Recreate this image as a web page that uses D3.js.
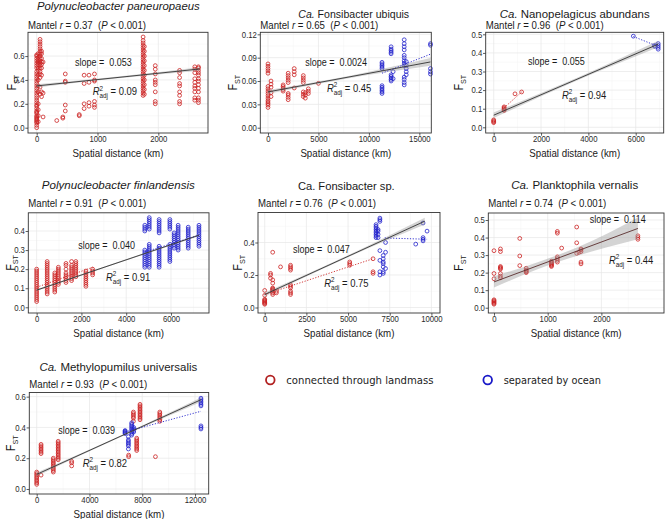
<!DOCTYPE html>
<html><head><meta charset="utf-8">
<script src="https://cdn.jsdelivr.net/npm/d3@7"></script>
<style>
html,body{margin:0;padding:0;background:#fff;}
svg text{white-space:pre;}
</style></head><body>
<svg id="c" width="665" height="519"></svg>
<script>
// ---------------- DATA ----------------
const titles = ["Polynucleobacter paneuropaeus","Ca. Fonsibacter ubiquis","Ca. Nanopelagicus abundans",
  "Polynucleobacter finlandensis","Ca. Fonsibacter sp.","Ca. Planktophila vernalis","Ca. Methylopumilus universalis"];
const titleStyle = ["italic","ca","ca","italic","plain","ca","ca"];
const mantelR = ["0.37","0.65","0.96","0.91","0.76","0.74","0.93"];
const slopes = ["0.053","0.0024","0.055","0.040","0.047","0.114","0.039"];
const r2adj = ["0.09","0.45","0.94","0.91","0.75","0.44","0.82"];
const legendLabels = ["connected through landmass","separated by ocean"];

const xTicks = [[0,1000,2000],[0,5000,10000,15000],[0,2000,4000,6000],[0,2000,4000,6000],[0,2500,5000,7500,10000],[0,1000,2000],[0,4000,8000,12000]];
const yTicks = [[0,0.2,0.4,0.6],[0,0.03,0.06,0.09,0.12],[0,0.1,0.2,0.3,0.4,0.5],[0,0.1,0.2,0.3,0.4],[0,0.2,0.4],[0,0.1,0.2,0.3,0.4,0.5],[0,0.2,0.4,0.6]];

// clusters: [distance km, [FST values]]
const p1Red = [
 [0,[0.00,0.02,0.04,0.05,0.06,0.07,0.08,0.09,0.10,0.12,0.13,0.14,0.16,0.18,0.19,0.21,0.23,0.25,0.27,0.29,0.31,0.33,0.35,0.37,0.39,0.41,0.43,0.45,0.47,0.50,0.52,0.54,0.56,0.58,0.60,0.61]],
 [25,[0.05,0.10,0.15,0.20,0.30,0.35,0.40,0.44,0.48,0.50,0.53,0.55,0.57,0.59,0.62]],
 [55,[0.28,0.34,0.42,0.45,0.47,0.50,0.52,0.54,0.56,0.58,0.60,0.62,0.64,0.66,0.68,0.70,0.72,0.74]],
 [80,[0.26,0.30,0.44,0.50,0.53,0.55,0.58,0.62,0.64]],
 [105,[0.09,0.29,0.55]],
 [330,[0.06]],[430,[0.08,0.09]],[470,[0.14,0.19,0.38,0.39,0.45]],[700,[0.10,0.11]],
 [780,[0.16,0.20,0.37,0.44]],[860,[0.18,0.21,0.38,0.44]],[950,[0.17,0.19,0.22,0.39,0.40,0.45]],
 [1750,[0.27,0.29,0.31,0.33,0.35,0.37,0.39,0.41,0.43,0.45,0.47,0.49,0.51,0.53,0.55,0.57,0.59,0.61,0.63,0.65,0.67,0.69,0.71,0.73,0.76]],
 [1770,[0.28,0.32,0.36,0.40,0.44,0.48,0.52,0.56,0.60,0.64,0.68]],
 [1950,[0.20,0.22,0.30,0.36,0.38,0.40,0.45,0.49,0.52]],
 [2350,[0.20,0.22,0.27,0.30,0.35,0.37,0.42,0.46,0.48]],
 [2600,[0.23,0.25,0.30,0.33,0.35,0.38,0.41,0.46,0.49,0.51]],
 [2660,[0.21,0.23,0.25,0.30,0.33,0.36,0.39,0.41,0.44,0.46,0.48,0.50,0.51]]
];
const p1Blue = [];
const p2Red = [
 [0,[0.026,0.029,0.031,0.033,0.035,0.038,0.041,0.044,0.047,0.050,0.053,0.070,0.073,0.076,0.079,0.082]],
 [300,[0.040,0.045,0.052,0.056,0.060]],
 [1500,[0.047,0.049,0.051,0.053,0.055]],
 [2000,[0.036,0.039,0.042,0.044,0.058,0.061,0.064,0.067,0.070]],
 [2600,[0.051,0.068,0.072,0.076]],
 [3500,[0.040,0.043,0.046,0.058,0.061,0.064,0.067]],
 [3700,[0.038,0.042,0.045]],
 [4000,[0.044,0.047,0.050]],
 [5000,[0.057]]
];
const p2Blue = [
 [11300,[0.044,0.046,0.048,0.050,0.052,0.054,0.076,0.078,0.080,0.082,0.084]],
 [12200,[0.060,0.062,0.064,0.066,0.068,0.095,0.097,0.099,0.101,0.104]],
 [12400,[0.063,0.072]],
 [13500,[0.055,0.058,0.062,0.065,0.080,0.083,0.086,0.090,0.093,0.100,0.104,0.108,0.113]],
 [13700,[0.068,0.072,0.076,0.080,0.085]],
 [16100,[0.069,0.072,0.076,0.106,0.108]]
];
const p3Red = [[0,[0.025,0.03,0.035,0.04]],[440,[0.09,0.095,0.10,0.105,0.11]],[900,[0.18]],[1180,[0.19]]];
const p3Blue = [[5900,[0.49]],[6800,[0.435,0.44]],[6950,[0.42,0.43,0.44,0.45]]];
const p4Red = [
 [0,[0.03,0.04,0.05,0.06,0.07,0.08,0.09,0.10,0.11,0.12,0.13,0.14,0.15,0.16,0.17,0.18,0.19,0.20]],
 [470,[0.07,0.08,0.09,0.10,0.11,0.12,0.13,0.14,0.15,0.16,0.17,0.18,0.19,0.20,0.21,0.22,0.23,0.24]],
 [810,[0.08,0.09,0.10,0.11,0.12,0.13,0.14,0.15,0.16,0.17,0.18]],
 [970,[0.12,0.13,0.14,0.15,0.16,0.17,0.18,0.19,0.20,0.21]],
 [1310,[0.13,0.14,0.15,0.16,0.17,0.18,0.20,0.22,0.23]],
 [1560,[0.14,0.15,0.16,0.17,0.18,0.19,0.20,0.21,0.22,0.24]],
 [1750,[0.16,0.17,0.18,0.19,0.20,0.21,0.22,0.23,0.24]],
 [2200,[0.11,0.12,0.13,0.14,0.15,0.16,0.17,0.18,0.19]],
 [2500,[0.17,0.18,0.19,0.20]]
];
const p4Blue = [
 [4830,[0.21,0.22,0.23,0.24,0.25,0.26,0.27,0.28,0.29,0.30,0.40,0.41,0.42,0.43]],
 [5030,[0.21,0.22,0.23,0.24,0.25,0.26,0.27,0.28,0.29,0.30,0.31,0.32,0.33,0.41,0.42,0.43,0.44,0.45,0.46,0.47]],
 [5470,[0.21,0.22,0.23,0.24,0.25,0.26,0.27,0.28,0.29,0.30,0.31,0.32,0.39,0.40,0.41,0.42,0.43,0.44,0.45,0.46]],
 [5950,[0.24,0.25,0.26,0.27,0.28,0.29,0.30,0.31,0.32,0.33,0.41,0.42,0.43,0.44,0.45,0.46]],
 [6140,[0.31,0.32,0.33,0.34,0.35,0.36,0.37,0.38,0.39]],
 [6320,[0.30,0.31,0.32,0.33,0.34,0.35,0.36,0.37,0.38,0.39,0.40,0.41,0.42,0.43]],
 [6770,[0.31,0.32,0.33,0.34,0.35,0.36,0.37,0.38,0.39,0.40,0.41,0.42]],
 [7250,[0.32,0.33,0.34,0.35,0.36,0.37,0.38,0.39,0.40,0.41,0.42,0.43]]
];
const p5Red = [
 [0,[0.02,0.025,0.03,0.035,0.04,0.045,0.05,0.075,0.105]],
 [350,[0.18,0.20,0.21]],
 [480,[0.08,0.09,0.10,0.105,0.11,0.115,0.12,0.15,0.17,0.34]],
 [700,[0.09,0.10]],
 [950,[0.25]],
 [1550,[0.08,0.09,0.10,0.12,0.13,0.14,0.23,0.24,0.25,0.26]],
 [5100,[0.26,0.27,0.28]],
 [6500,[0.21,0.22,0.30]]
];
const p5Blue = [
 [6680,[0.43,0.44,0.45,0.46,0.47,0.48,0.49,0.50,0.51]],
 [6800,[0.43,0.45,0.47,0.48]],
 [6910,[0.20,0.22,0.29,0.35,0.53,0.54,0.55]],
 [7110,[0.21,0.22,0.25,0.27,0.28,0.30,0.32]],
 [7250,[0.24,0.34,0.40]],
 [9060,[0.39]],
 [9500,[0.41,0.42,0.43,0.52]],
 [9740,[0.47]]
];
const p6Red = [
 [0,[0.02,0.025,0.03,0.035,0.04,0.045,0.165,0.195,0.325]],
 [120,[0.17,0.18,0.195,0.22,0.225,0.23,0.235,0.32,0.335]],
 [480,[0.24,0.295,0.395]],
 [600,[0.20,0.205,0.21,0.215,0.225]],
 [1070,[0.235,0.24,0.245,0.25,0.255,0.26,0.265]],
 [1180,[0.26,0.27,0.28,0.29,0.425,0.435]],
 [1260,[0.34]],
 [1540,[0.31,0.37,0.46]],
 [1580,[0.315]],
 [1620,[0.25,0.26,0.32,0.33,0.335]],
 [2680,[0.39,0.40,0.41]]
];
const p6Blue = [];
const p7Red = [
 [0,[0.03,0.04,0.05,0.06,0.07,0.08,0.09,0.10,0.11]],
 [330,[0.09,0.23,0.24,0.25,0.26,0.27,0.28,0.29]],
 [1260,[0.11,0.12,0.13,0.14,0.15,0.16,0.17,0.18,0.19,0.20]],
 [1630,[0.19,0.20,0.21,0.22,0.23,0.24,0.25,0.26,0.27,0.28,0.29,0.30,0.31]],
 [2650,[0.15,0.17,0.18]],
 [6970,[0.21,0.22]],
 [7330,[0.44,0.46,0.47,0.48,0.49,0.50]],
 [7580,[0.25,0.26,0.27,0.28,0.29,0.30,0.31,0.32,0.33]],
 [7830,[0.45,0.46,0.47,0.48,0.49,0.50,0.51,0.52,0.53,0.54,0.55]],
 [9000,[0.21]],
 [9330,[0.44,0.45,0.46,0.47,0.48,0.49,0.50]]
];
const p7Blue = [
 [6700,[0.36,0.365,0.37,0.375,0.38]],
 [6950,[0.26,0.28,0.29,0.30,0.31,0.32,0.34]],
 [7200,[0.35,0.36,0.37,0.38,0.39,0.40,0.41,0.42,0.43]],
 [7350,[0.37,0.38,0.39,0.40]],
 [12450,[0.39,0.40,0.41,0.54,0.55,0.56,0.57,0.58,0.59]]
];

// overall fitted line ends [x, FST]
const fitLines = [
 [[0,0.35],[2680,0.492]],
 [[0,0.046],[16100,0.0845]],
 [[0,0.065],[6950,0.447]],
 [[0,0.09],[7250,0.378]],
 [[0,0.08],[9600,0.531]],
 [[0,0.147],[2680,0.452]],
 [[0,0.095],[12450,0.58]]
];
// confidence band [x, lower, upper]
const fitBands = [
 [[0,0.337,0.363],[1300,0.412,0.426],[2680,0.478,0.506]],
 [[0,0.0435,0.0485],[8000,0.0635,0.0665],[16100,0.0795,0.0895]],
 [[0,0.050,0.080],[3500,0.250,0.265],[6950,0.430,0.465]],
 [[0,0.086,0.094],[3600,0.230,0.236],[7250,0.373,0.383]],
 [[0,0.068,0.092],[4800,0.300,0.312],[9600,0.510,0.552]],
 [[0,0.115,0.179],[800,0.218,0.258],[1600,0.300,0.350],[2680,0.390,0.514]],
 [[0,0.083,0.107],[6200,0.331,0.341],[12450,0.565,0.595]]
];
// group-wise dotted fits
const redFits = [null, null, [[440,0.105],[1180,0.19]], [[0,0.105],[2500,0.21]], [[0,0.08],[6500,0.30]], null, null];
const blueFits = [null, [[11300,0.070],[16200,0.095]], [[5900,0.488],[6950,0.435]], [[4830,0.29],[7250,0.378]], [[7200,0.428],[9740,0.42]], null, [[6700,0.37],[12450,0.505]]];

const redPts = [p1Red,p2Red,p3Red,p4Red,p5Red,p6Red,p7Red];
const bluePts = [p1Blue,p2Blue,p3Blue,p4Blue,p5Blue,p6Blue,p7Blue];

// ---------------- LAYOUT ----------------
const layout = [
 {l:28,r:208,t:32.3,b:133,xd:[-143,2817],yd:[-0.0444,0.799],ty:10,tx:118.3,tw:163,my:28.5,slope:[75,65.5],r2:[92.7,95],fx:15.5,yf:".1f"},
 {l:260.3,r:431.3,t:32.3,b:133,xd:[-763,16184],yd:[-0.0068,0.1226],ty:18.2,tx:353.7,tw:111,my:28.5,slope:[305.3,66.2],r2:[327,91.8],fx:237,yf:".2f"},
 {l:485.7,r:663.7,t:32.3,b:133,xd:[-338,7183],yd:[-0.0306,0.5108],ty:18.2,tx:574.7,tw:150,my:28.5,slope:[528,65.2],r2:[562,98.5],fx:463,yf:".1f"},
 {l:28.3,r:209,t:212.8,b:313,xd:[-373,7698],yd:[-0.0299,0.4954],ty:189,tx:118.3,tw:153,my:207,slope:[78.3,249.2],r2:[106,280.8],fx:15,yf:".1f"},
 {l:258,r:440,t:212.5,b:313,xd:[-402,10516],yd:[-0.0338,0.5846],ty:189.5,tx:346.3,tw:97,my:207,slope:[293,252.5],r2:[324.3,286.8],fx:242,yf:".1f"},
 {l:488.3,r:664,t:213,b:313,xd:[-106,3166],yd:[-0.0302,0.54],ty:189,tx:574.7,tw:127,my:207,slope:[589.7,222.8],r2:[609,263.5],fx:463,yf:".1f",lineCol:"#5a2e2e"},
 {l:29.3,r:208.7,t:392.5,b:494,xd:[-561,13037],yd:[-0.0325,0.627],ty:370.7,tx:118.3,tw:158,my:388,slope:[58.3,434.2],r2:[82.7,466.8],fx:15,yf:".1f"}
];

const SX = 0.9;
const FONT = "'Liberation Sans', Arial, Helvetica, sans-serif";
const RED = "#cc2222", BLUE = "#2222cc";
const svg = d3.select("#c");
svg.append("rect").attr("width",665).attr("height",519).attr("fill","#fff");

function txt(parent, x, y, parts, o={}) {
  const g = parent.append("g");
  const t = g.append("text").attr("font-family", o.family||FONT).attr("font-size", o.size||10)
    .attr("fill", o.fill||"#1a1a1a").attr("text-anchor", o.anchor||"start");
  if (typeof parts === "string") parts=[{t:parts}];
  parts.forEach(p => {
    const s = t.append("tspan").text(p.t);
    if (p.italic) s.attr("font-style","italic");
    if (p.size) s.attr("font-size", p.size);
    if (p.dx) s.attr("dx", p.dx);
    if (p.dy) s.attr("dy", p.dy);
  });
  let sx = o.sx ?? SX;
  if (o.width) { const len = t.node().getComputedTextLength(); if (len > 0) sx = o.width/len; }
  g.attr("transform", `translate(${x},${y})${o.rotate?` rotate(${o.rotate})`:''} scale(${sx},1)`);
  return t;
}

function minorTicks(ticks, dom){
  const step = ticks[1]-ticks[0], out=[];
  for (let v = ticks[0]-step/2; v <= dom[1]; v += step) if (v >= dom[0]) out.push(v);
  return out;
}

layout.forEach((L,i) => {
  const g = svg.append("g");
  const x = d3.scaleLinear().domain(L.xd).range([L.l, L.r]);
  const y = d3.scaleLinear().domain(L.yd).range([L.b, L.t]);
  const W = L.r-L.l, H = L.b-L.t;

  // grid
  const grid = g.append("g");
  minorTicks(xTicks[i], L.xd).forEach(v => grid.append("line").attr("x1",x(v)).attr("x2",x(v)).attr("y1",L.t).attr("y2",L.b).attr("stroke","#f3f3f3").attr("stroke-width",0.5));
  minorTicks(yTicks[i], L.yd).forEach(v => grid.append("line").attr("y1",y(v)).attr("y2",y(v)).attr("x1",L.l).attr("x2",L.r).attr("stroke","#f3f3f3").attr("stroke-width",0.5));
  xTicks[i].forEach(v => grid.append("line").attr("x1",x(v)).attr("x2",x(v)).attr("y1",L.t).attr("y2",L.b).attr("stroke","#e6e6e6").attr("stroke-width",0.7));
  yTicks[i].forEach(v => grid.append("line").attr("y1",y(v)).attr("y2",y(v)).attr("x1",L.l).attr("x2",L.r).attr("stroke","#e6e6e6").attr("stroke-width",0.7));

  // points
  const pts = g.append("g").attr("fill","none").attr("stroke-width",0.8);
  [[redPts[i],RED],[bluePts[i],BLUE]].forEach(([cl,col]) => {
    const flat = [];
    cl.forEach(([d,ys]) => ys.forEach(v => flat.push([d,v])));
    pts.selectAll(null).data(flat).enter().append("circle")
      .attr("cx",d=>x(d[0])).attr("cy",d=>y(d[1])).attr("r",1.9).attr("stroke",col);
  });

  // band + line
  g.append("path").datum(fitBands[i])
    .attr("d", d3.area().x(d=>x(d[0])).y0(d=>y(d[1])).y1(d=>y(d[2])).curve(d3.curveMonotoneX))
    .attr("fill","#999").attr("fill-opacity",0.42);
  const line = d3.line().x(d=>x(d[0])).y(d=>y(d[1]));
  if (redFits[i]) g.append("path").datum(redFits[i]).attr("d",line).attr("stroke",RED).attr("stroke-width",0.9).attr("stroke-dasharray","1.2,1.6").attr("fill","none");
  if (blueFits[i]) g.append("path").datum(blueFits[i]).attr("d",line).attr("stroke",BLUE).attr("stroke-width",0.9).attr("stroke-dasharray","1.2,1.6").attr("fill","none");
  g.append("path").datum(fitLines[i]).attr("d",line).attr("stroke",L.lineCol||"#333").attr("stroke-width",0.9).attr("fill","none");

  // border
  g.append("rect").attr("x",L.l).attr("y",L.t).attr("width",W).attr("height",H)
    .attr("fill","none").attr("stroke","#333").attr("stroke-width",0.9);

  // axes
  const ax = g.append("g").attr("transform",`translate(0,${L.b})`)
    .call(d3.axisBottom(x).tickValues(xTicks[i]).tickSize(2.7).tickPadding(0.6).tickFormat(d3.format("d")));
  const ay = g.append("g").attr("transform",`translate(${L.l},0)`)
    .call(d3.axisLeft(y).tickValues(yTicks[i]).tickSize(2.7).tickPadding(0.6).tickFormat(d3.format(L.yf)));
  [ax,ay].forEach(a => {
    a.select(".domain").remove();
    a.selectAll(".tick line").attr("stroke","#333").attr("stroke-width",0.8);
    a.selectAll(".tick text").attr("font-family",FONT).attr("font-size",8.6).attr("fill","#2a2a2a");
  });
  ax.selectAll(".tick text").attr("transform",`scale(${SX},1)`);
  ay.selectAll(".tick text").attr("x",-3.4/SX).attr("transform",`scale(${SX},1)`);

  // titles
  const st = titleStyle[i], tt = titles[i];
  let parts;
  if (st==="italic") parts=[{t:tt,italic:true}];
  else if (st==="ca") parts=[{t:"Ca.",italic:true},{t:tt.slice(3)}];
  else parts=[{t:tt}];
  txt(g, L.tx, L.ty, parts, {size:11.6, anchor:"middle", width:L.tw});
  txt(g, L.l, L.my, [{t:"Mantel "},{t:"r",italic:true},{t:` = ${mantelR[i]}  (`},{t:"P",italic:true},{t:" < 0.001)"}], {size:10.5, width:118});

  // axis titles
  txt(g, (L.l+L.r)/2, L.b+23.6, "Spatial distance (km)", {size:11, anchor:"middle", width:91});
  txt(g, L.fx, (L.t+L.b)/2, [{t:"F",size:12},{t:"ST",size:8,dy:3}], {rotate:-90, anchor:"middle"});

  // annotations
  txt(g, L.slope[0], L.slope[1], `slope =  ${slopes[i]}`, {size:10});
  txt(g, L.r2[0], L.r2[1], [{t:"R",italic:true,size:10.5},{t:"2",size:7,dy:-4.5},{t:"adj",size:7,dx:-3.9,dy:7.5},{t:` = ${r2adj[i]}`,size:10.5,dy:-3}], {});
});

// legend
const lg = svg.append("g");
[[270.3,RED,"#b22222"],[487.7,BLUE,"#1a1ac8"]].forEach(([cx,c,c2],k) => {
  lg.append("circle").attr("cx",cx).attr("cy",380).attr("r",4.3).attr("fill","none").attr("stroke",c2).attr("stroke-width",1.8);
  lg.append("text").attr("x",cx+16).attr("y",383.6).attr("font-family","'DejaVu Sans', Verdana, sans-serif")
    .attr("font-size",k?9.8:10.1).attr("fill","#222").text(legendLabels[k]);
});
</script>
</body></html>
